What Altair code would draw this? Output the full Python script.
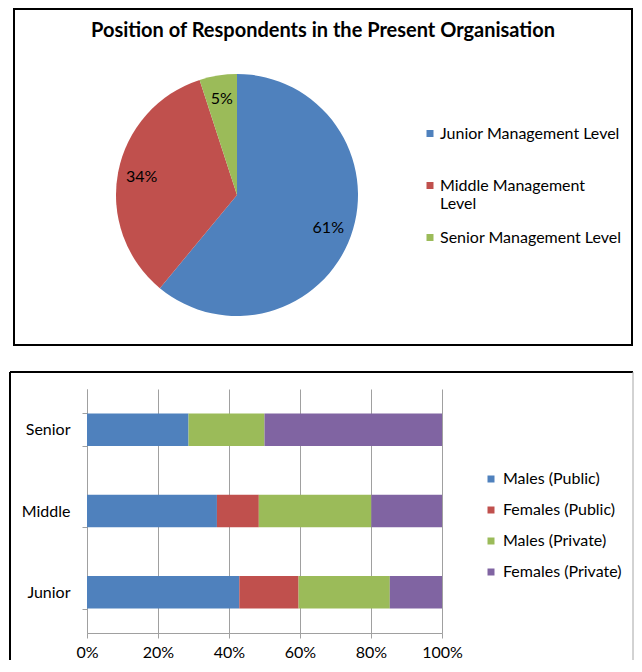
import altair as alt
import pandas as pd

# ---- data: pie (top) ----
pie_levels = ["Junior Management Level", "Middle Management Level", "Senior Management Level"]
pie_share = [61, 34, 5]
pie_colors = ["#4F81BD", "#C0504D", "#9BBB59"]

# ---- data: stacked bars (bottom) ----
bar_levels = ["Senior", "Middle", "Junior"]
series = ["Males (Public)", "Females (Public)", "Males (Private)", "Females (Private)"]
series_colors = ["#4F81BD", "#C0504D", "#9BBB59", "#8064A2"]
males_public = [28.6, 36.6, 42.9]
females_public = [0.0, 11.8, 16.7]
males_private = [21.4, 31.7, 25.7]
females_private = [50.0, 19.9, 14.7]

FONT = "Lato"

pie_df = pd.DataFrame({"level": pie_levels, "share": pie_share, "idx": list(range(len(pie_levels)))})

rows = []
for s_i, (name, vals) in enumerate(zip(series, [males_public, females_public, males_private, females_private])):
    for lvl, v in zip(bar_levels, vals):
        rows.append({"level": lvl, "series": name, "share": v, "idx": s_i})
bar_df = pd.DataFrame(rows)

one = pd.DataFrame({"f": [0]})

# ---- top panel ----
frame_top = alt.Chart(one).mark_rect(fillOpacity=0, stroke="black", strokeWidth=2).encode(
    x=alt.value(-73), x2=alt.value(545), y=alt.value(-65), y2=alt.value(271)
)

pie_base = alt.Chart(pie_df).encode(
    theta=alt.Theta("share:Q", stack=True),
    order=alt.Order("idx:Q"),
)
arcs = pie_base.mark_arc().encode(
    color=alt.Color(
        "level:N",
        scale=alt.Scale(domain=pie_levels, range=pie_colors),
        legend=alt.Legend(
            title=None, orient="none", legendX=335, legendY=51.5,
            symbolType="square", symbolSize=49, symbolStrokeWidth=0,
            labelFont=FONT, labelFontSize=16, labelColor="black",
            labelOffset=2, rowPadding=18, padding=0, labelLimit=300,
            labelExpr="datum.label == 'Middle Management Level' ? ['Middle Management', 'Level'] : [datum.label, '']",
        ),
    )
)
pie_text = pie_base.transform_calculate(lab="datum.share + '%'").mark_text(
    radius=97, font=FONT, fontSize=16, color="black"
).encode(text="lab:N")

top = alt.layer(frame_top, arcs, pie_text).properties(
    width=300, height=242,
    title=alt.TitleParams(
        text="Position of Respondents in the Present Organisation",
        font=FONT, fontSize=20, fontWeight="bold", color="black",
        anchor="middle", frame="bounds", offset=-33,
    ),
)

# ---- bottom panel ----
Y_END = 271
frame_bot_top = alt.Chart(one).mark_rule(color="black", strokeWidth=2).encode(
    x=alt.value(-77), x2=alt.value(546), y=alt.value(-17)
)
frame_bot_left = alt.Chart(one).mark_rule(color="black", strokeWidth=2).encode(
    x=alt.value(-77), y=alt.value(-17), y2=alt.value(Y_END)
)
frame_bot_right = alt.Chart(one).mark_rule(color="#A6A6A6", strokeWidth=1).encode(
    x=alt.value(546), y=alt.value(-17), y2=alt.value(Y_END)
)

bars = alt.Chart(bar_df).mark_bar().encode(
    x=alt.X(
        "share:Q", stack="zero",
        scale=alt.Scale(domain=[0, 100], nice=False),
        axis=alt.Axis(
            title=None, values=[0, 20, 40, 60, 80, 100], labelExpr="datum.value + '%'",
            labelFlush=False,
            grid=True, gridColor="#A0A0A0", domainColor="#A0A0A0", tickColor="#A0A0A0",
            tickSize=5, labelPadding=6, labelFont=FONT, labelFontSize=16, labelColor="black",
        ),
    ),
    y=alt.Y(
        "level:N", sort=bar_levels,
        scale=alt.Scale(paddingInner=0.6, paddingOuter=0.3),
        axis=alt.Axis(
            title=None, tickBand="extent", domainColor="#A0A0A0", tickColor="#A0A0A0",
            tickSize=5, labelPadding=12, labelFont=FONT, labelFontSize=16, labelColor="black",
        ),
    ),
    color=alt.Color(
        "series:N",
        scale=alt.Scale(domain=series, range=series_colors),
        legend=alt.Legend(
            title=None, orient="none", legendX=396, legendY=82,
            symbolType="square", symbolSize=49, symbolStrokeWidth=0,
            labelFont=FONT, labelFontSize=16, labelColor="black",
            labelOffset=4, rowPadding=15, padding=0, labelLimit=300,
        ),
    ),
    order=alt.Order("idx:Q"),
)

bottom = alt.layer(frame_bot_top, frame_bot_left, frame_bot_right, bars).properties(width=355, height=244)

chart = alt.vconcat(top, bottom, spacing=25).resolve_scale(color="independent").properties(
    padding={"left": 1, "top": 0, "right": 0, "bottom": 0}
).configure_view(stroke=None)

chart.save("out.html", embed_options={"renderer": "svg", "actions": False})
